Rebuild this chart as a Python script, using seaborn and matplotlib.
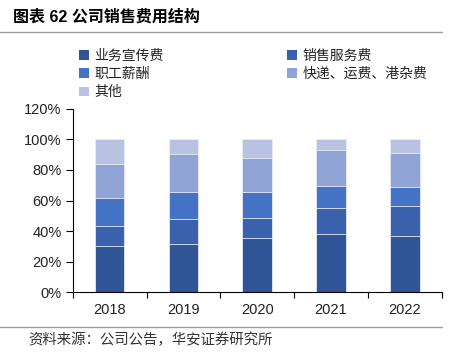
import matplotlib
matplotlib.use("Agg")
import matplotlib.pyplot as plt
import matplotlib.patches as mpatches
from matplotlib.lines import Line2D
from matplotlib.ticker import FuncFormatter
import seaborn as sns
import pandas as pd
import numpy as np

years = ["2018", "2019", "2020", "2021", "2022"]
series_names = ["业务宣传费", "销售服务费", "职工薪酬", "快递、运费、港杂费", "其他"]
ad_promo = [30.1, 31.8, 35.3, 38.3, 36.6]
sales_service = [13.4, 15.9, 13.5, 16.6, 20.0]
staff_pay = [18.3, 18.1, 17.0, 14.8, 12.4]
freight = [22.2, 24.4, 21.8, 23.1, 22.3]
others = [16.0, 9.8, 12.4, 7.2, 8.7]
colors = ["#2F5597", "#3A62AC", "#4472C4", "#8FA3D5", "#B8C3E2"]

sns.set_theme(style="white")
plt.rcParams["font.family"] = ["Liberation Sans", "Noto Sans CJK SC"]

values = [ad_promo, sales_service, staff_pay, freight, others]
cum = np.cumsum(np.array(values), axis=0) / 100.0

rows = []
for si, name in enumerate(series_names):
    for yi, y in enumerate(years):
        rows.append({"year": y, "series": name, "cum": cum[si, yi]})
df = pd.DataFrame(rows)

fig = plt.figure(figsize=(4.53, 3.58), dpi=100)
ax = fig.add_axes([72.7 / 453, (358 - 292.3) / 358, (441.7 - 72.7) / 453, (292.3 - 108.7) / 358])

for si in reversed(range(len(series_names))):
    sub = df[df["series"] == series_names[si]]
    sns.barplot(data=sub, x="year", y="cum", color=colors[si], width=0.4,
                edgecolor="#E8ECF6", linewidth=0.6, ax=ax, saturation=1, errorbar=None)

ax.set_xlim(-0.5, 4.23)
ax.set_ylim(0, 1.2)
ax.set_yticks(np.arange(0, 1.21, 0.2))
ax.yaxis.set_major_formatter(FuncFormatter(lambda v, p: f"{v*100:.0f}%"))
ax.set_xlabel("")
ax.set_ylabel("")
for s in ["top", "right"]:
    ax.spines[s].set_visible(False)
for s in ["left", "bottom"]:
    ax.spines[s].set_color("black")
    ax.spines[s].set_linewidth(0.8)
ax.tick_params(axis="y", which="major", left=True, length=5, width=0.8, color="black",
               labelsize=10.5, labelcolor="#222222", pad=3)
ax.set_xticks(range(len(years)))
ax.set_xticklabels(years)
ax.tick_params(axis="x", which="major", bottom=False, length=0, labelsize=10.5,
               labelcolor="#222222", pad=8)
ax.set_xticks([i - 0.5 for i in range(6)], minor=True)
ax.tick_params(axis="x", which="minor", bottom=True, length=4, width=0.8, color="black")

handles = [mpatches.Patch(facecolor=c, edgecolor="none") for c in colors]
order = [0, 2, 4, 1, 3]
fig.legend([handles[i] for i in order], [series_names[i] for i in order],
           loc="upper left", bbox_to_anchor=(72 / 453, 1 - 42 / 358), ncol=2,
           frameon=False, fontsize=10, handlelength=0.7, handleheight=0.7,
           handletextpad=0.4, columnspacing=8.9, labelspacing=0.3, borderpad=0,
           labelcolor="#222222")

fig.text(13 / 453, 1 - 17 / 358, "图表 62 公司销售费用结构", fontsize=11.5,
         fontweight="bold", va="center", ha="left", color="black")
fig.add_artist(Line2D([0, 441.7 / 453], [1 - 32.3 / 358] * 2, color="#9A9A9A", lw=1))
fig.add_artist(Line2D([0, 441.7 / 453], [1 - 326.7 / 358] * 2, color="#9A9A9A", lw=1))
fig.text(28 / 453, 1 - 339.5 / 358, "资料来源：公司公告，华安证券研究所", fontsize=10.4,
         va="center", ha="left", color="#333333")

fig.savefig("out.png", dpi=100)
